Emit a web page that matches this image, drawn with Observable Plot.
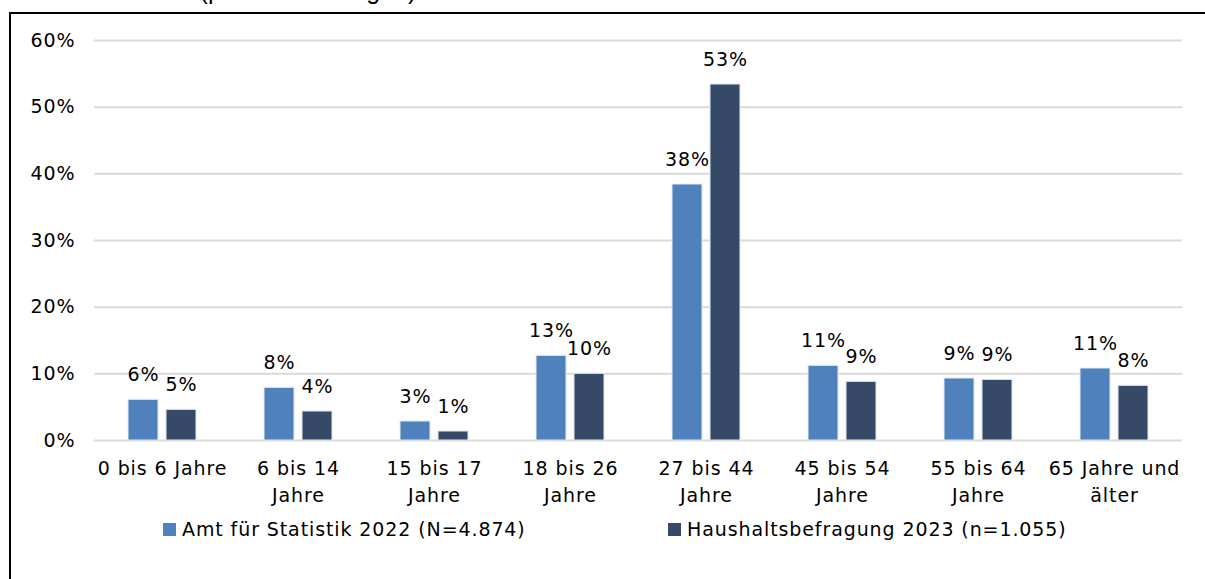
<!DOCTYPE html>
<html>
<head>
<meta charset="utf-8">
<script src="https://cdn.jsdelivr.net/npm/d3@7"></script>
<script src="https://cdn.jsdelivr.net/npm/@observablehq/plot@0.6"></script>
<style>
  html, body { margin: 0; padding: 0; background: #fff; }
  body { width: 1205px; height: 579px; position: relative; overflow: hidden; font-family: "DejaVu Sans", sans-serif; }
  #title { position: absolute; left: 0; width: 616px; top: -24px; text-align: center; font-family: "Liberation Sans", Arial, sans-serif; font-size: 25px; color: #000; }
  #frame { position: absolute; left: 9px; top: 12px; width: 1300px; height: 700px; border-left: 2px solid #000; border-top: 2px solid #000; }
  #chart { position: absolute; left: 0; top: 0; }
  .lg { position: absolute; top: 518px; display: flex; align-items: center; font-size: 19px; letter-spacing: 0.9px; color: #000; white-space: nowrap; }
  .sw { width: 13px; height: 13px; margin-right: 6px; }
</style>
</head>
<body>
<div id="title">(personenbezogen)</div>
<div id="frame"></div>
<div id="chart"></div>
<div id="legend"></div>
<script>
const categories = ["0 bis 6 Jahre", "6 bis 14 Jahre", "15 bis 17 Jahre", "18 bis 26 Jahre", "27 bis 44 Jahre", "45 bis 54 Jahre", "55 bis 64 Jahre", "65 Jahre und älter"];
const tickLabels = ["0 bis 6 Jahre", "6 bis 14\nJahre", "15 bis 17\nJahre", "18 bis 26\nJahre", "27 bis 44\nJahre", "45 bis 54\nJahre", "55 bis 64\nJahre", "65 Jahre und\nälter"];
const seriesNames = ["Amt für Statistik 2022 (N=4.874)", "Haushaltsbefragung 2023 (n=1.055)"];
const amtValues = [0.061, 0.079, 0.0285, 0.127, 0.384, 0.112, 0.093, 0.108];
const hausValues = [0.046, 0.0435, 0.0135, 0.100, 0.534, 0.088, 0.091, 0.082];
const yTicks = [0, 0.1, 0.2, 0.3, 0.4, 0.5, 0.6];
const colors = ["#4F81BD", "#364A68"];

const data = [];
categories.forEach((c, i) => {
  data.push({cat: c, series: seriesNames[0], value: amtValues[i]});
  data.push({cat: c, series: seriesNames[1], value: hausValues[i]});
});
const labelOf = new Map(categories.map((c, i) => [c, tickLabels[i]]));
const pct = d3.format(".0%");

const chart = Plot.plot({
  width: 1205,
  height: 500,
  marginLeft: 90,
  marginRight: 20,
  marginTop: 40,
  marginBottom: 60,
  style: {background: "none", overflow: "visible", fontFamily: "DejaVu Sans, sans-serif", color: "#000", letterSpacing: "0.9px"},
  fx: {domain: categories, padding: 0, label: null, axis: null},
  x: {domain: seriesNames, paddingInner: 0.2, paddingOuter: 0.86, axis: null},
  y: {domain: [0, 0.6], label: null, axis: null},
  color: {domain: seriesNames, range: colors},
  marks: [
    Plot.ruleY(yTicks, {stroke: "#d9d9d9", strokeWidth: 2}),
    Plot.axisY({ticks: yTicks, tickFormat: pct, tickSize: 0, tickPadding: 19, fontSize: 19, label: null}),
    Plot.axisFx({anchor: "bottom", tickFormat: d => labelOf.get(d), tickSize: 0, tickPadding: 15, fontSize: 19, lineHeight: 1.42, label: null}),
    Plot.barY(data, {fx: "cat", x: "series", y: "value", fill: "series", stroke: "#e3e9f2", strokeWidth: 1}),
    Plot.text(data, {fx: "cat", x: "series", y: "value", text: d => pct(d.value), dy: -25, fontSize: 19, lineAnchor: "middle", fill: "#000"})
  ]
});
document.getElementById("chart").appendChild(chart);

const legend = document.getElementById("legend");
const lgLeft = [163, 668];
seriesNames.forEach((s, i) => {
  const item = document.createElement("div");
  item.className = "lg";
  item.style.left = lgLeft[i] + "px";
  const sw = document.createElement("div");
  sw.className = "sw";
  sw.style.background = colors[i];
  const t = document.createElement("span");
  t.textContent = s;
  item.appendChild(sw);
  item.appendChild(t);
  legend.appendChild(item);
});
</script>
</body>
</html>
